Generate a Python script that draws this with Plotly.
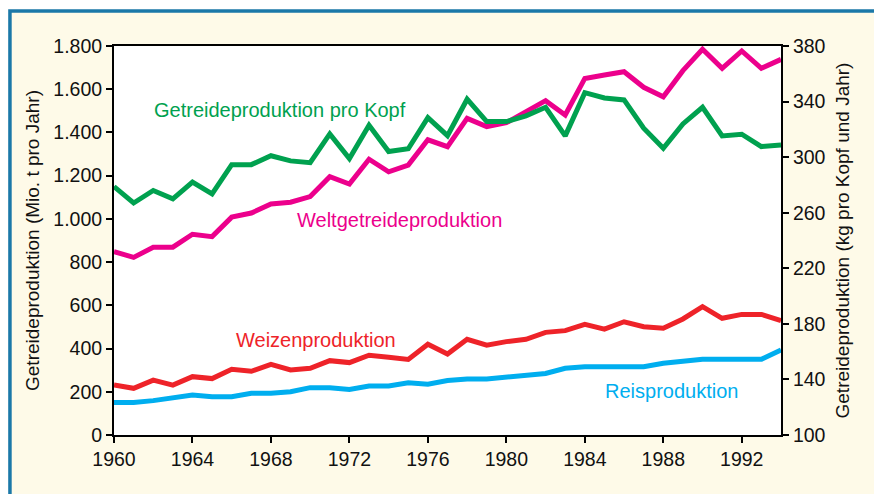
import plotly.graph_objects as go

# Jahre 1960-1994
years = list(range(1960, 1995))

# Weltgetreideproduktion (Mio. t pro Jahr)
welt = [848, 822, 869, 869, 929, 918, 1008, 1027, 1069, 1077, 1103, 1195, 1161, 1276,
        1218, 1249, 1366, 1334, 1465, 1427, 1445, 1496, 1547, 1481, 1650, 1666, 1681,
        1609, 1565, 1686, 1785, 1697, 1777, 1697, 1738]

# Getreideproduktion pro Kopf (kg pro Kopf und Jahr)
pro_kopf = [278.8, 267, 276, 270, 282, 273.5, 294.6, 294.6, 301, 297.3, 296, 316.7, 299,
            323, 304, 306, 328.5, 315.5, 341.7, 325.6, 325.6, 329.7, 335.9, 315.3, 346.4,
            342.6, 341.2, 320.8, 306.4, 323.9, 335.9, 315.3, 316.5, 307.6, 308.8]

# Weizenproduktion (Mio. t pro Jahr)
weizen = [231, 216, 254, 231, 270, 261, 304, 295, 327, 301, 309, 344, 335, 369, 360, 350,
          420, 375, 443, 416, 432, 443, 475, 483, 512, 490, 524, 501, 494, 537, 594, 540,
          558, 558, 529]

# Reisproduktion (Mio. t pro Jahr)
reis = [150, 150, 159, 170, 185, 177, 177, 193, 193, 200, 219, 219, 211, 227, 227, 242,
        235, 252, 259, 259, 267, 274, 285, 309, 316, 316, 316, 316, 332, 342, 350, 350,
        350, 350, 393]

x_ticks = list(range(1960, 1995, 4))
left_ticks = list(range(0, 1801, 200))
right_ticks = list(range(100, 381, 40))

GREEN = "#00A14F"
MAGENTA = "#EC008C"
RED = "#EE2329"
BLUE = "#00AEEF"
FONT = "Liberation Sans, Arial, sans-serif"

fig = go.Figure()
fig.add_trace(go.Scatter(x=years, y=reis, mode="lines", line=dict(color=BLUE, width=5),
                         name="Reisproduktion"))
fig.add_trace(go.Scatter(x=years, y=weizen, mode="lines", line=dict(color=RED, width=5),
                         name="Weizenproduktion"))
fig.add_trace(go.Scatter(x=years, y=welt, mode="lines", line=dict(color=MAGENTA, width=5),
                         name="Weltgetreideproduktion"))
fig.add_trace(go.Scatter(x=years, y=pro_kopf, mode="lines", yaxis="y2",
                         line=dict(color=GREEN, width=5),
                         name="Getreideproduktion pro Kopf"))

labels = [
    ("Getreideproduktion pro Kopf", 1968.46, 1504, GREEN),
    ("Weltgetreideproduktion", 1974.53, 995, MAGENTA),
    ("Weizenproduktion", 1970.32, 440, RED),
    ("Reisproduktion", 1988.44, 204, BLUE),
]
for text, lx, ly, col in labels:
    fig.add_annotation(x=lx, y=ly, xref="x", yref="y", text=text, showarrow=False,
                       font=dict(family=FONT, size=20, color=col))

axis_common = dict(showline=True, linecolor="black", linewidth=2, ticks="outside",
                   ticklen=6, tickwidth=2, tickcolor="black", showgrid=False,
                   zeroline=False, tickfont=dict(family=FONT, size=19.5, color="#111"))

fig.update_layout(
    width=874, height=494,
    margin=dict(l=114, r=93, t=46, b=59),
    paper_bgcolor="white",
    plot_bgcolor="rgba(0,0,0,0)",
    separators=",.",
    showlegend=False,
    xaxis=dict(range=[1960, 1994], tickvals=x_ticks, mirror=True, **axis_common),
    yaxis=dict(range=[0, 1800], tickvals=left_ticks, tickformat=",d",
               title=dict(text="Getreideproduktion (Mio. t pro Jahr)",
                          font=dict(family=FONT, size=19, color="#111"), standoff=9),
               **axis_common),
    yaxis2=dict(range=[100, 380], tickvals=right_ticks, overlaying="y", side="right",
                title=dict(text="Getreideproduktion (kg pro Kopf und Jahr)",
                           font=dict(family=FONT, size=19, color="#111"), standoff=11),
                **axis_common),
    shapes=[
        # cremefarbener Rahmen mit blauer Kante
        dict(type="rect", xref="paper", yref="paper", x0=-0.156, x1=1.5, y0=-0.6, y1=1.09,
             line=dict(color="#1B78A8", width=3.5), fillcolor="#FEFAE8", layer="below"),
        # weisse Diagrammfläche
        dict(type="rect", xref="paper", yref="paper", x0=0, x1=1, y0=0, y1=1,
             line=dict(width=0), fillcolor="white", layer="below"),
    ],
)

fig.write_html("out.html")
